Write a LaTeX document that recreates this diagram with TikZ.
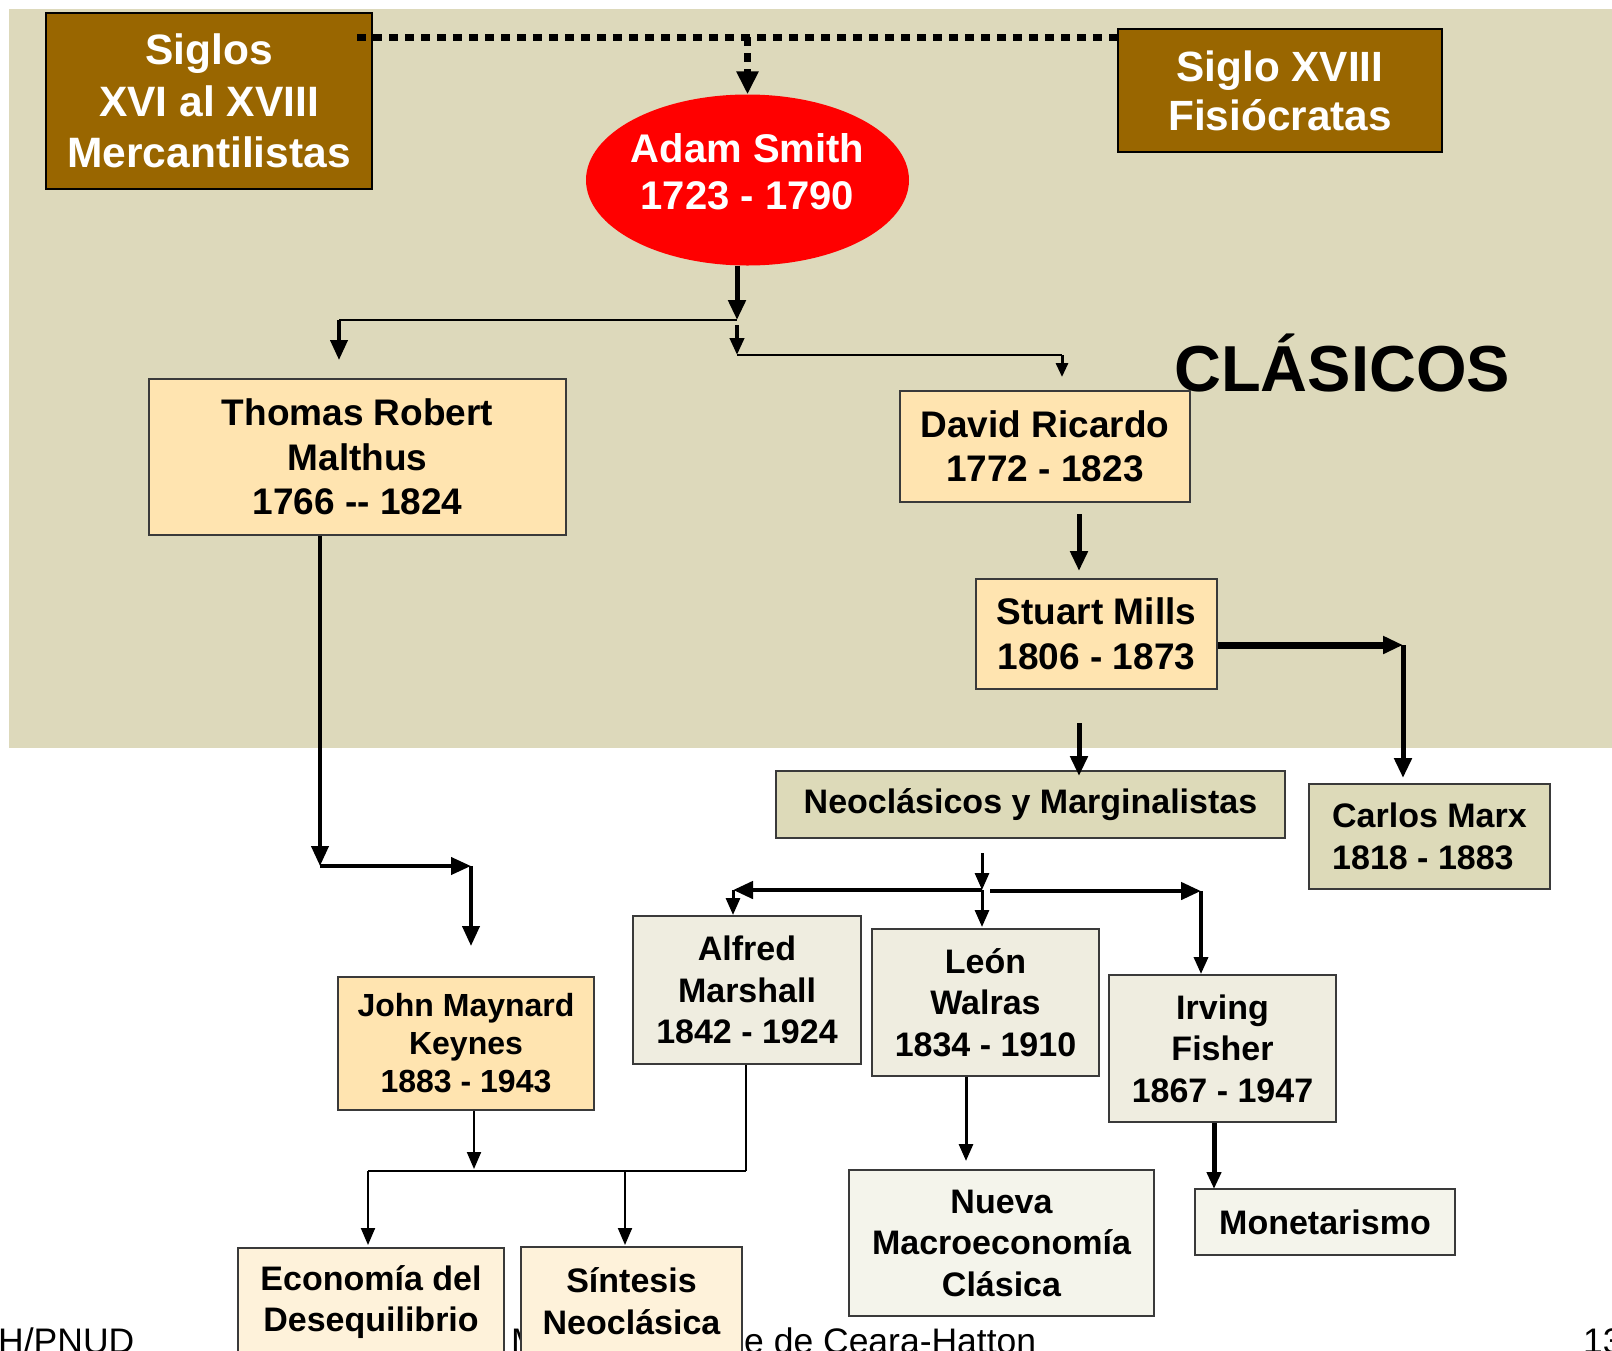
\documentclass[tikz,border=0pt]{standalone}
\usepackage{fontspec}
\setmainfont{Liberation Sans}
\usetikzlibrary{arrows.meta,shapes.geometric,calc}

\definecolor{bgtan}{HTML}{DDD9BB}
\definecolor{brownbox}{HTML}{996600}
\definecolor{peach}{HTML}{FFE4B0}
\definecolor{tanbox}{HTML}{DDDAB9}
\definecolor{paleA}{HTML}{EFEDE0}
\definecolor{paleB}{HTML}{F4F4EB}
\definecolor{cream}{HTML}{FEF2DA}
\definecolor{frame}{HTML}{3A3A3A}

\tikzset{
  nbox/.style={draw=frame, line width=1.5pt, inner sep=0pt, align=center, text=black},
  wh/.style 2 args={minimum width=#1, minimum height=#2},
  fA/.style={font=\fontsize{37}{44.5}\selectfont\bfseries},
  fB/.style={font=\fontsize{34}{41.5}\selectfont\bfseries},
  fK/.style={font=\fontsize{32}{38}\selectfont\bfseries},
  foot/.style={inner sep=0pt, anchor=base west, font=\fontsize{35.5}{40}\selectfont, text=black},
  bigtip/.tip={Triangle[length=20pt,width=17pt]},
  midtip/.tip={Triangle[length=17pt,width=14pt]},
  smalltip/.tip={Triangle[length=14pt,width=12pt]},
  dotline/.style={line width=7pt, dash pattern=on 9pt off 7pt},
}

\begin{document}
\begin{tikzpicture}[x=1pt,y=-1pt]
\useasboundingbox (0,0) rectangle (1612,1350);
\fill[white] (0,0) rectangle (1612,1350);
\fill[bgtan] (9,9) rectangle (1612,748);

% footer (partly hidden behind the boxes)
\node[foot] (ft1) at (-2,1353) {H/PNUD};
\node[foot] (ft2) at (511,1353) {M};
\node[foot] (ft3) at (744,1353) {e de Ceara-Hatton};
\node[foot] (ft4) at (1583,1353) {13};

% top boxes
\node[nbox, draw=black, fill=brownbox, text=white, wh={326pt}{176pt},
      font=\fontsize{42.5}{51.5}\selectfont\bfseries] (merc) at (209,101) {Siglos\\XVI al XVIII\\Mercantilistas};
\node[nbox, draw=black, fill=brownbox, text=white, wh={324pt}{123pt},
      font=\fontsize{42.3}{49}\selectfont\bfseries] (fis) at (1280,90.5) {Siglo XVIII\\Fisiócratas};

\node[ellipse, fill=red, draw=none, inner sep=0pt, wh={323pt}{171pt}] (adam) at (747.5,180) {};
\node[align=center, text=white, inner sep=0pt, font=\fontsize{40}{47}\selectfont\bfseries] (adamtxt) at (747.5,172) {Adam Smith\\1723 - 1790};

\node[inner sep=0pt, anchor=base, font=\fontsize{65}{70}\selectfont\bfseries] (clas) at (1342,391) {CLÁSICOS};

% classical boxes
\node[nbox, fill=peach, fA, wh={417pt}{156pt}] (mal) at (357.5,457) {Thomas Robert\\Malthus\\1766 -{}- 1824};
\node[nbox, fill=peach, fA, wh={290pt}{111pt}] (ric) at (1045,446.5) {David Ricardo\\1772 - 1823};
\node[nbox, fill=peach, fA, wh={241pt}{110pt}] (stu) at (1096.5,634) {Stuart Mills\\1806 - 1873};

% neoclassical
\node[nbox, fill=tanbox, fB, wh={509pt}{67pt}] (neo) at (1030.5,804.5) {Neoclásicos y Marginalistas};
\node[nbox, fill=tanbox, fB, align=left, wh={241pt}{105pt}] (marx) at (1429.5,836.5) {Carlos Marx\\1818 - 1883};

\node[nbox, fill=peach, fK, wh={256pt}{133pt}] (key) at (466,1043.5) {John Maynard\\Keynes\\1883 - 1943};
\node[nbox, fill=paleA, fB, wh={228pt}{148pt}] (mar) at (747,990) {Alfred\\Marshall\\1842 - 1924};
\node[nbox, fill=paleA, fB, wh={227pt}{147pt}] (wal) at (985.5,1002.5) {León\\Walras\\1834 - 1910};
\node[nbox, fill=paleA, fB, wh={227pt}{147pt}] (fish) at (1222.5,1048.5) {Irving\\Fisher\\1867 - 1947};

\node[nbox, fill=paleB, fB, wh={305pt}{146pt}] (nue) at (1001.5,1243) {Nueva\\Macroeconomía\\Clásica};
\node[nbox, fill=paleB, fB, wh={260pt}{66pt}] (mon) at (1325,1222) {Monetarismo};

\node[nbox, fill=cream, fB, wh={266pt}{108pt}] (eco) at (371,1302) {Economía del\\Desequilibrio};
\node[nbox, fill=cream, fB, wh={221pt}{108pt}] (sin) at (631.5,1301) {Síntesis\\Neoclásica};

% dotted connectors
\coordinate (dl) at (357,37);
\draw[dotline] (dl) -- (dl -| fis.west);
\draw[dotline, -{Triangle[length=23pt,width=21pt]}] (dl -| adam.north) -- (adam.north);

% Adam Smith branches
\coordinate (j1) at (737,320);
\coordinate (jm) at (339,320);
\coordinate (mtip) at (339,360);
\draw[line width=5pt, -bigtip] (adam.south -| j1) -- (j1);
\draw[line width=2pt] (j1) -- (jm);
\draw[line width=4pt, -bigtip] (jm) -- (mtip);
\coordinate (j2s) at (737,325);
\coordinate (j2) at (737,355);
\coordinate (jr) at (1062,355);
\coordinate (rtip) at (1062,377);
\draw[line width=4pt, -midtip] (j2s) -- (j2);
\draw[line width=2pt] (j2) -- (jr);
\draw[line width=3pt, -smalltip] (jr) -- (rtip);

% Ricardo -> Stuart -> Neo
\coordinate (rs1) at (1079,514);
\coordinate (rs2) at (1079,571);
\draw[line width=5pt, -bigtip] (rs1) -- (rs2);
\coordinate (sn1) at (1079,723);
\coordinate (sn2) at (1079,776);
\draw[line width=5pt, -bigtip] (sn1) -- (sn2);

% Stuart -> Marx
\coordinate (sm1) at (1403,645);
\coordinate (sm2) at (1403,778);
\draw[line width=7pt, -bigtip] (stu.east |- sm1) -- (sm1);
\draw[line width=5pt, -bigtip] (sm1) -- (sm2);

% Malthus -> Keynes
\coordinate (mk1) at (320,866);
\coordinate (mk2) at (471,866);
\coordinate (mk3) at (471,946);
\draw[line width=4pt, -bigtip] (mal.south -| mk1) -- (mk1);
\draw[line width=4pt, -bigtip] (mk1) -- (mk2);
\draw[line width=4pt, -bigtip] (mk2) -- (mk3);

% Neo branches
\coordinate (n0) at (982,853);
\coordinate (n1) at (982,890);
\coordinate (nl) at (733,890);
\coordinate (nlt) at (733,915);
\coordinate (nct) at (982,927);
\coordinate (nr0) at (990,891);
\coordinate (nr) at (1201,891);
\coordinate (nrt) at (1201,974);
\draw[line width=3pt, -midtip] (n0) -- (n1);
\draw[line width=4.5pt, -bigtip] (n1) -- (nl);
\draw[line width=3pt, -midtip] (nl) -- (nlt);
\draw[line width=3pt, -midtip] (n1) -- (nct);
\draw[line width=4.5pt, -bigtip] (nr0) -- (nr);
\draw[line width=3.5pt, -midtip] (nr) -- (nrt);

% Walras -> Nueva, Fisher -> Monetarismo
\coordinate (wn) at (966,1161);
\draw[line width=3pt, -midtip] (wal.south -| wn) -- (wn);
\coordinate (fm) at (1214,1189);
\draw[line width=5pt, -midtip] (fish.south -| fm) -- (fm);

% Keynes / Marshall -> Economia, Sintesis
\coordinate (kj) at (474,1169);
\coordinate (hl) at (368,1171);
\coordinate (hr) at (746,1171);
\coordinate (et) at (368,1245);
\coordinate (st0) at (625,1171);
\coordinate (st) at (625,1245);
\draw[line width=2pt, -midtip] (key.south -| kj) -- (kj);
\draw[line width=2pt] (hl) -- (hr);
\draw[line width=2pt] (mar.south -| hr) -- (hr);
\draw[line width=2pt, -midtip] (hl) -- (et);
\draw[line width=2pt, -midtip] (st0) -- (st);
\end{tikzpicture}
\end{document}
